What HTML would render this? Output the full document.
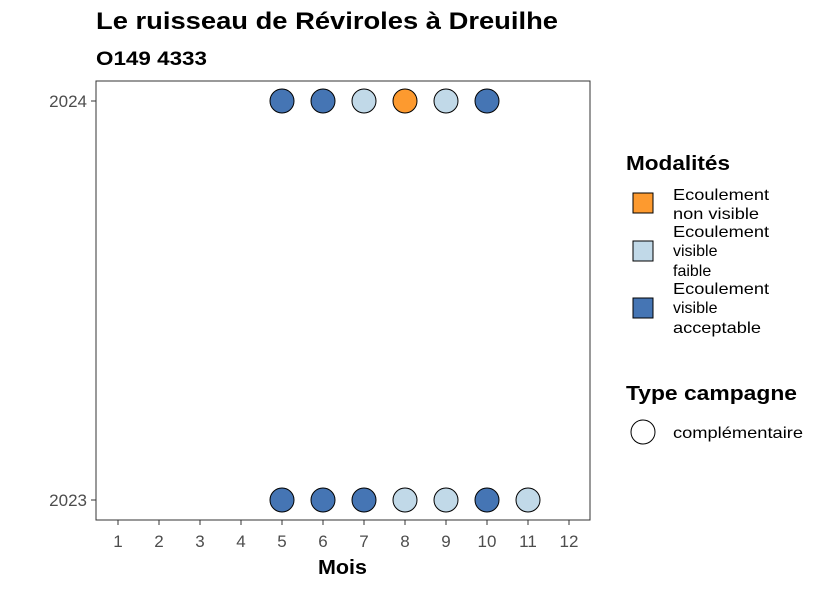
<!DOCTYPE html>
<html><head><meta charset="utf-8"><style>
body{margin:0;background:#fff;font-family:"Liberation Sans",sans-serif}
</style></head><body>
<svg width="826" height="590" font-family="Liberation Sans, sans-serif">
<text x="96" y="29" font-size="24" font-weight="bold" textLength="462" lengthAdjust="spacingAndGlyphs">Le ruisseau de Réviroles à Dreuilhe</text>
<text x="96" y="65" font-size="19" font-weight="bold" textLength="111" lengthAdjust="spacingAndGlyphs">O149 4333</text>
<rect x="96" y="81" width="494" height="439" fill="#fff" stroke="#333" stroke-width="1"/>
<g id="xaxis"></g>
<g id="yaxis"></g>
<g id="points"></g>
<text x="318" y="574" font-size="20" font-weight="bold" textLength="49" lengthAdjust="spacingAndGlyphs">Mois</text>
<g>
<text x="626" y="170" font-size="20" font-weight="bold" textLength="104" lengthAdjust="spacingAndGlyphs">Modalités</text>
<g>
<rect x="633" y="193" width="20" height="20" fill="#fd9a2f" stroke="#000"/>
<text x="673" y="200" font-size="16" textLength="96" lengthAdjust="spacingAndGlyphs">Ecoulement</text><text x="673" y="219" font-size="16" textLength="86" lengthAdjust="spacingAndGlyphs">non visible</text></g>
<g>
<rect x="633" y="241" width="20" height="20" fill="#c1d9e8" stroke="#000"/>
<text x="673" y="237" font-size="16" textLength="96" lengthAdjust="spacingAndGlyphs">Ecoulement</text><text x="673" y="256" font-size="16">visible</text><text x="673" y="276" font-size="16">faible</text></g>
<g>
<rect x="633" y="298" width="20" height="20" fill="#4575b4" stroke="#000"/>
<text x="673" y="294" font-size="16" textLength="96" lengthAdjust="spacingAndGlyphs">Ecoulement</text><text x="673" y="313" font-size="16">visible</text><text x="673" y="333" font-size="16" textLength="88" lengthAdjust="spacingAndGlyphs">acceptable</text></g>
<text x="626" y="400" font-size="20" font-weight="bold" textLength="171" lengthAdjust="spacingAndGlyphs">Type campagne</text>
<g>
<circle cx="643" cy="432" r="12" fill="#fff" stroke="#000"/>
<text x="673" y="438" font-size="16" textLength="130" lengthAdjust="spacingAndGlyphs">complémentaire</text></g>
</g>
</svg>
<script>
const months=[1,2,3,4,5,6,7,8,9,10,11,12];
const years=[2023,2024];
const pts2024=[[5,"acc"],[6,"acc"],[7,"fai"],[8,"nv"],[9,"fai"],[10,"acc"]];
const pts2023=[[5,"acc"],[6,"acc"],[7,"acc"],[8,"fai"],[9,"fai"],[10,"acc"],[11,"fai"]];
const colors={acc:"#4575b4",fai:"#c1d9e8",nv:"#fd9a2f"};
const NS="http://www.w3.org/2000/svg";
const xs=m=>118+(m-1)*41;
const ys=y=>500-(y-2023)*399;
function mk(t,a,p){const e=document.createElementNS(NS,t);for(const k in a)e.setAttribute(k,a[k]);p.appendChild(e);return e;}
const xa=document.getElementById('xaxis');
months.forEach(m=>{
 const l=mk('line',{x1:xs(m),x2:xs(m),y1:520,y2:525,stroke:'#333'},xa);
 
 
 const t=mk('text',{x:xs(m),y:547,'font-size':17,fill:'#4d4d4d','text-anchor':'middle'},xa);t.textContent=m;
 
 
});
const ya=document.getElementById('yaxis');
years.forEach(y=>{
 const l=mk('line',{x1:91,x2:96,y1:ys(y),y2:ys(y),stroke:'#333'},ya);
 
 
 const t=mk('text',{x:87,y:ys(y)+6,'font-size':17,fill:'#4d4d4d','text-anchor':'end'},ya);t.textContent=y;
 
 
});
const pg=document.getElementById('points');
[[2024,pts2024],[2023,pts2023]].forEach(([y,arr])=>arr.forEach(([m,c])=>{
 const e=mk('circle',{cx:xs(m),cy:ys(y),r:12,fill:colors[c],stroke:'#000','stroke-width':1},pg);
 
 
}));
</script>
</body></html>
